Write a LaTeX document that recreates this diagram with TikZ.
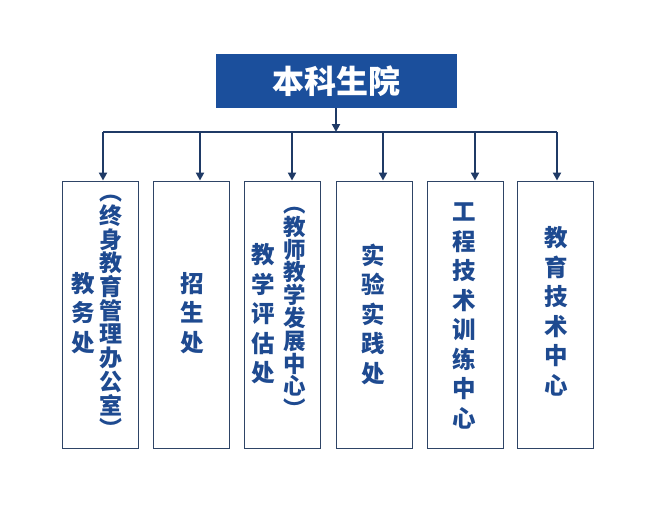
\documentclass[tikz,border=0pt]{standalone}
\usepackage{fontspec}
\newfontfamily\cjk{Noto Sans CJK SC}
\usetikzlibrary{arrows.meta}
\definecolor{topfill}{HTML}{1B4F9C}
\definecolor{linec}{HTML}{1F3A66}
\definecolor{txtc}{HTML}{1E4A90}
\definecolor{boxc}{HTML}{2E4466}
\tikzset{
  topbox/.style={draw=none,fill=topfill,minimum width=241pt,minimum height=54pt,inner sep=0pt,
    text=white,font=\cjk\bfseries\fontsize{32}{32}\selectfont},
  orgbox/.style={draw=boxc,line width=0.9pt,minimum width=76pt,minimum height=267pt,inner sep=0pt},
  coltxt/.style={text=txtc,align=center,inner sep=0pt,font=\cjk\bfseries\fontsize{23.5}{29.5}\selectfont},
  densetxt/.style={text=txtc,align=center,inner sep=0pt,font=\cjk\bfseries\fontsize{23}{23.7}\selectfont},
  dense2txt/.style={text=txtc,align=center,inner sep=0pt,font=\cjk\bfseries\fontsize{22.5}{22.8}\selectfont},
  conn/.style={draw=linec,line width=2.2pt},
  arr/.style={conn,-{Triangle[length=8pt,width=8pt]}}
}
\begin{document}
\begin{tikzpicture}[x=1pt,y=-1pt]
\useasboundingbox (0,0) rectangle (672,519);
\node[topbox] (top) at (336.5,81) {本科生院};
\node[orgbox] (b1) at (100,314.5) {};
\node[orgbox] (b2) at (191,314.5) {};
\node[orgbox] (b3) at (282,314.5) {};
\node[orgbox] (b4) at (374,314.5) {};
\node[orgbox] (b5) at (465,314.5) {};
\node[orgbox] (b6) at (555.5,314.5) {};
% texts
\node[coltxt] (t1a) at (83,313) {教\\务\\处};
\node[densetxt] (t1b) at (111,316.5) {︵\\终\\身\\教\\育\\管\\理\\办\\公\\室\\︶};
\node[coltxt] (t2) at (192,313) {招\\生\\处};
\node[coltxt] (t3a) at (263,314) {教\\学\\评\\估\\处};
\node[dense2txt] (t3b) at (295,312.5) {︵\\教\\师\\教\\学\\发\\展\\中\\心\\︶};
\node[coltxt] (t4) at (373,314) {实\\验\\实\\践\\处};
\node[coltxt] (t5) at (464,316) {工\\程\\技\\术\\训\\练\\中\\心};
\node[coltxt] (t6) at (556,311.5) {教\\育\\技\\术\\中\\心};
% connectors
\coordinate (hub) at (336,132);
\coordinate (c1) at (103,132);
\coordinate (c2) at (200,132);
\coordinate (c3) at (292,132);
\coordinate (c4) at (383,132);
\coordinate (c5) at (475,132);
\coordinate (c6) at (557,132);
\draw[arr] (top.south -| hub) -- (hub);
\draw[conn] (c1) -- (c6);
\draw[arr] (c1) -- (c1 |- b1.north);
\draw[arr] (c2) -- (c2 |- b2.north);
\draw[arr] (c3) -- (c3 |- b3.north);
\draw[arr] (c4) -- (c4 |- b4.north);
\draw[arr] (c5) -- (c5 |- b5.north);
\draw[arr] (c6) -- (c6 |- b6.north);
\end{tikzpicture}
\end{document}
